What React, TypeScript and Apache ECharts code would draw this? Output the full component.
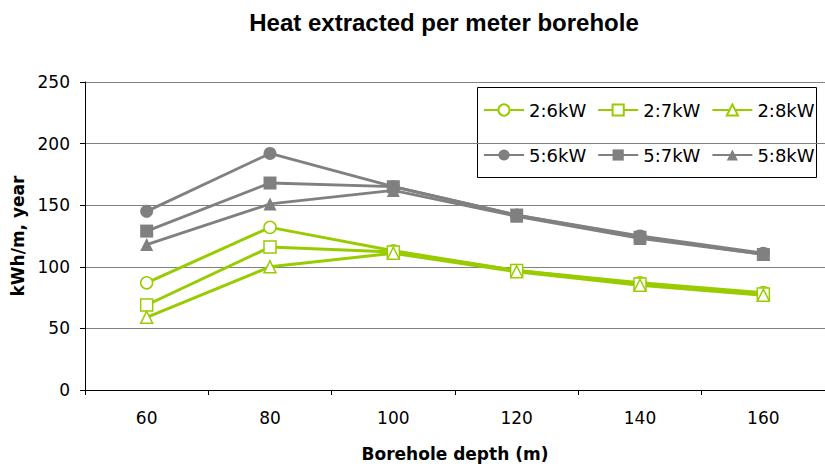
import React, { useEffect, useRef } from "react";
import * as echarts from "echarts";

const depths = ["60", "80", "100", "120", "140", "160"];
const s26 = [87, 132, 113, 97, 87, 79];
const s27 = [69, 116, 112, 97, 86, 78];
const s28 = [59, 100, 111, 96, 85, 77];
const s56 = [145, 192, 165, 142, 125, 111];
const s57 = [129, 168, 165, 142, 124, 110];
const s58 = [118, 151, 162, 141, 123, 110];

const GREEN = "#99CC00";
const GRAY = "#808080";
const TITLE_FONT = "Liberation Sans, Arial, sans-serif";
const FONT = "DejaVu Sans, sans-serif";

export default function App() {
  const ref = useRef<HTMLDivElement>(null);
  useEffect(() => {
    if (!ref.current) return;
    const chart = echarts.init(ref.current, null, { renderer: "svg" });
    const green = (name: string, data: number[], symbol: string) => ({
      name,
      type: "line",
      data,
      symbol,
      symbolSize: 12,
      lineStyle: { color: GREEN, width: 3 },
      itemStyle: { color: "#ffffff", borderColor: GREEN, borderWidth: 1.5 },
      emphasis: { disabled: true },
      z: 2,
    });
    const gray = (name: string, data: number[], symbol: string) => ({
      name,
      type: "line",
      data,
      symbol,
      symbolSize: 13,
      lineStyle: { color: GRAY, width: 2.8 },
      itemStyle: { color: GRAY, borderColor: GRAY, borderWidth: 0 },
      emphasis: { disabled: true },
      z: 3,
    });
    const legendBase = {
      orient: "horizontal",
      itemWidth: 40,
      itemHeight: 14,
      itemGap: 11,
      textStyle: { fontFamily: FONT, fontSize: 18, color: "#000" },
      padding: 0,
    };
    chart.setOption({
      animation: false,
      backgroundColor: "#ffffff",
      title: {
        text: "Heat extracted per meter borehole",
        left: 439,
        top: 5,
        textAlign: "center",
        textStyle: { fontFamily: TITLE_FONT, fontSize: 24, fontWeight: "bold", color: "#000" },
      },
      grid: { left: 85, top: 82, bottom: 78, right: -8, containLabel: false },
      legend: [
        { ...legendBase, left: 483, top: 101, data: ["2:6kW", "2:7kW", "2:8kW"] },
        { ...legendBase, left: 483, top: 146, data: ["5:6kW", "5:7kW", "5:8kW"] },
      ],
      graphic: [
        {
          type: "rect",
          shape: { x: 477.5, y: 87.5, width: 339, height: 90 },
          style: { fill: "#ffffff", stroke: "#000000", lineWidth: 1 },
          z: 0,
          silent: true,
        },
      ],
      xAxis: {
        type: "category",
        data: depths,
        boundaryGap: true,
        name: "Borehole depth (m)",
        nameLocation: "middle",
        nameGap: 55,
        nameTextStyle: { fontFamily: FONT, fontSize: 17, fontWeight: "bold", color: "#000" },
        axisLine: { lineStyle: { color: "#000", width: 1 } },
        axisTick: { show: true, length: 5, inside: false, lineStyle: { color: "#000" } },
        axisLabel: { margin: 19, fontFamily: FONT, fontSize: 17, color: "#000" },
        splitLine: { show: false },
      },
      yAxis: {
        type: "value",
        min: 0,
        max: 250,
        interval: 50,
        name: "kWh/m, year",
        nameLocation: "middle",
        nameGap: 50,
        nameRotate: 90,
        nameTextStyle: { fontFamily: FONT, fontSize: 17, fontWeight: "bold", color: "#000" },
        axisLine: { show: true, lineStyle: { color: "#000", width: 1 } },
        axisTick: { show: true, length: 5, inside: false, lineStyle: { color: "#000" } },
        axisLabel: { margin: 15, fontFamily: FONT, fontSize: 17, color: "#000" },
        splitLine: { show: true, lineStyle: { color: GRAY, width: 1 } },
      },
      series: [
        green("2:6kW", s26, "circle"),
        green("2:7kW", s27, "rect"),
        green("2:8kW", s28, "triangle"),
        gray("5:6kW", s56, "circle"),
        gray("5:7kW", s57, "rect"),
        gray("5:8kW", s58, "triangle"),
      ],
    });
    return () => chart.dispose();
  }, []);
  return (
    <div
      ref={ref}
      style={{ position: "absolute", left: 0, top: 0, width: 825, height: 468 }}
    />
  );
}
